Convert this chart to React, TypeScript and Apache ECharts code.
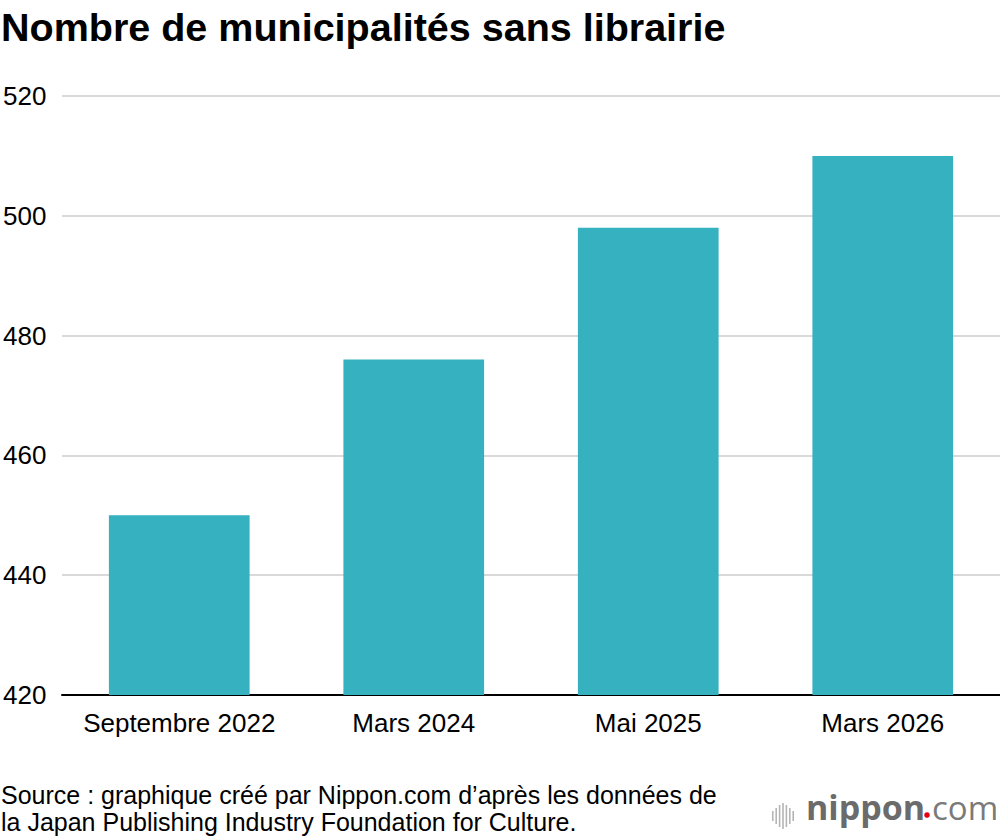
import React, { useEffect, useRef } from "react";
import * as echarts from "echarts";

const categories = ["Septembre 2022", "Mars 2024", "Mai 2025", "Mars 2026"];
const values = [450, 476, 498, 510];
const yTicks = [420, 440, 460, 480, 500, 520];
const titleText = "Nombre de municipalités sans librairie";
const sourceLines = [
  "Source : graphique créé par Nippon.com d’après les données de",
  "la Japan Publishing Industry Foundation for Culture.",
];

const FONT = "'Liberation Sans', Arial, Helvetica, sans-serif";

export default function App() {
  const ref = useRef<HTMLDivElement>(null);
  useEffect(() => {
    document.body.style.margin = "0";
    const chart = echarts.init(ref.current!, null, { renderer: "svg" });
    const hs = [10, 16, 22, 26, 22, 16, 10];
    const logoBars = hs.map((h, i) => ({
      type: "rect",
      shape: { x: 772 + i * 3.4, y: 816 - h / 2, width: 1.6, height: h },
      style: { fill: "#b5b5b5" },
    }));
    chart.setOption({
      animation: false,
      textStyle: { fontFamily: FONT },
      title: {
        text: titleText,
        left: -4,
        top: 2,
        textStyle: { fontFamily: FONT, fontSize: 39.5, fontWeight: "bold", color: "#000" },
      },
      grid: { left: 60, right: 0, top: 96, bottom: 145, containLabel: false },
      xAxis: {
        type: "category",
        data: categories,
        axisLine: { lineStyle: { color: "#000", width: 2 } },
        axisTick: { show: false },
        axisLabel: { color: "#000", fontSize: 26, fontFamily: FONT, margin: 15, interval: 0 },
      },
      yAxis: {
        type: "value",
        min: yTicks[0],
        max: yTicks[yTicks.length - 1],
        interval: 20,
        axisLine: { show: false },
        axisTick: { show: false },
        splitLine: { lineStyle: { color: "#cccccc", width: 1.5 } },
        axisLabel: {
          color: "#000",
          fontSize: 26,
          fontFamily: FONT,
          align: "left",
          margin: 59,
        },
      },
      series: [
        {
          type: "bar",
          data: values,
          barWidth: "60%",
          itemStyle: { color: "#35b1c0" },
        },
      ],
      graphic: [
        {
          type: "text",
          left: 1,
          top: 781,
          style: {
            text: sourceLines.join("\n"),
            fontFamily: FONT,
            fontSize: 25,
            lineHeight: 27,
            fill: "#000",
          },
        },
        ...logoBars,
        {
          type: "text",
          x: 806,
          y: 807,
          style: {
            text: "nippon",
            fontFamily: "'Open Sans', sans-serif",
            fontSize: 34,
            fontWeight: "bold",
            fill: "#6b6b6b",
            verticalAlign: "middle",
          },
        },
        {
          type: "circle",
          shape: { cx: 927, cy: 815, r: 2.8 },
          style: { fill: "#e60012" },
        },
        {
          type: "text",
          x: 932,
          y: 807,
          style: {
            text: "com",
            fontFamily: "'Open Sans', sans-serif",
            fontSize: 33,
            fontWeight: "normal",
            fill: "#7a7a7a",
            verticalAlign: "middle",
          },
        },
      ],
    });
    return () => chart.dispose();
  }, []);
  return (
    <div
      ref={ref}
      style={{ position: "absolute", left: 0, top: 0, width: 1000, height: 840, background: "#fff" }}
    />
  );
}
